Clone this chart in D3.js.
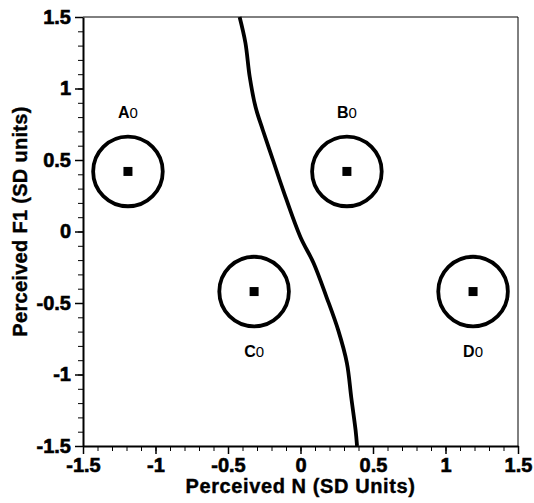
<!DOCTYPE html>
<html>
<head>
<meta charset="utf-8">
<script src="https://cdn.jsdelivr.net/npm/d3@7"></script>
<style>
    body { margin: 0; background: #fff; }
    svg text { font-family: "Liberation Sans", Arial, Helvetica, sans-serif; }
</style>
</head>
<body>
<div id="chart"></div>
<script>
// stimulus points in perceived N / F1 space
const names = ["A", "B", "C", "D"]
const pointN = [-1.19, 0.32, -0.32, 1.19]
const pointF1 = [0.42, 0.42, -0.42, -0.42]
const circleRadius = 0.24 // SD units

// category boundary
const boundaryN = [-0.42, -0.38, -0.35, -0.31, -0.26, -0.19, -0.12, 0.0, 0.09, 0.18, 0.26, 0.32, 0.35, 0.38, 0.39]
const boundaryF1 = [1.5, 1.32, 1.08, 0.87, 0.71, 0.5, 0.29, -0.04, -0.22, -0.46, -0.69, -0.92, -1.16, -1.39, -1.5]

const xTickValues = [-1.5, -1, -0.5, 0, 0.5, 1, 1.5]
const yTickValues = [-1.5, -1, -0.5, 0, 0.5, 1, 1.5]
const minorTickValues = d3.range(-15, 16).map(d => d / 10)

const xTitle = "Perceived N (SD Units)"
const yTitle = "Perceived F1 (SD units)"

const W = 534, H = 503
const margin = {top: 17, right: 16, bottom: 57, left: 83}
const width = W - margin.left - margin.right,
    height = H - margin.top - margin.bottom

const svg = d3.select("#chart")
    .append("svg")
    .attr("width", W)
    .attr("height", H)

const g = svg.append("g")
    .attr("transform", `translate(${margin.left}, ${margin.top})`)

const x = d3.scaleLinear().domain([-1.5, 1.5]).range([0, width])
const y = d3.scaleLinear().domain([-1.5, 1.5]).range([height, 0])

// thin frame on top and right
g.append("line").attr("x1", 0).attr("x2", width).attr("y1", 0).attr("y2", 0)
    .attr("stroke", "#000").attr("stroke-width", 1)
g.append("line").attr("x1", width).attr("x2", width).attr("y1", 0).attr("y2", height)
    .attr("stroke", "#000").attr("stroke-width", 1)

const fmt = d => d.toString()

// minor ticks
g.append("g")
    .attr("transform", `translate(0, ${height})`)
    .call(d3.axisBottom(x).tickValues(minorTickValues).tickSize(5).tickSizeOuter(0).tickFormat(""))
    .call(a => a.select(".domain").remove())
g.append("g")
    .call(d3.axisLeft(y).tickValues(minorTickValues).tickSize(5).tickSizeOuter(0).tickFormat(""))
    .call(a => a.select(".domain").remove())

const xAxis = g.append("g")
    .attr("transform", `translate(0, ${height})`)
    .call(d3.axisBottom(x).tickValues(xTickValues).tickSize(8).tickSizeOuter(0).tickFormat(fmt))
const yAxis = g.append("g")
    .call(d3.axisLeft(y).tickValues(yTickValues).tickSize(8).tickSizeOuter(0).tickFormat(fmt))

for (const a of [xAxis, yAxis]) {
    a.select(".domain").attr("stroke-width", 2)
    a.selectAll(".tick line").attr("stroke-width", 1.5)
    a.selectAll(".tick text")
        .style("font-size", "20px")
        .style("font-weight", "bold")
        .attr("fill", "#000")
        .attr("stroke", "#000")
        .attr("stroke-width", 0.6)
}
xAxis.selectAll(".tick text").attr("y", 12)
yAxis.selectAll(".tick text").attr("x", -12)
svg.selectAll(".tick line").attr("stroke", "#000")
svg.selectAll(".domain").attr("stroke", "#000")

// axis titles
svg.append("text")
    .attr("x", margin.left + width / 2)
    .attr("y", 493)
    .attr("text-anchor", "middle")
    .style("font-size", "20px")
    .style("font-weight", "bold")
    .style("letter-spacing", "0.6px")
    .attr("stroke", "#000")
    .attr("stroke-width", 0.4)
    .text(xTitle)

svg.append("text")
    .attr("transform", `translate(27, ${margin.top + height / 2 - 10}) rotate(-90)`)
    .attr("text-anchor", "middle")
    .style("font-size", "20px")
    .style("font-weight", "bold")
    .style("letter-spacing", "0.3px")
    .attr("stroke", "#000")
    .attr("stroke-width", 0.4)
    .text(yTitle)

// boundary curve
const boundary = boundaryN.map((n, i) => [n, boundaryF1[i]])
g.append("path")
    .datum(boundary)
    .attr("fill", "none")
    .attr("stroke", "#000")
    .attr("stroke-width", 3.8)
    .attr("stroke-linecap", "butt")
    .attr("d", d3.line().x(d => x(d[0])).y(d => y(d[1])).curve(d3.curveCatmullRom))

// points, circles and labels
const points = names.map((name, i) => ({name, n: pointN[i], f1: pointF1[i]}))
const rPx = x(circleRadius) - x(0)
const sq = 9

const pt = g.selectAll(".pt")
    .data(points)
    .enter()
    .append("g")
    .attr("class", "pt")
    .attr("transform", d => `translate(${x(d.n)}, ${y(d.f1)})`)

pt.append("circle")
    .attr("r", rPx)
    .attr("fill", "none")
    .attr("stroke", "#000")
    .attr("stroke-width", 3.8)

pt.append("rect")
    .attr("x", -sq / 2)
    .attr("y", -sq / 2)
    .attr("width", sq)
    .attr("height", sq)
    .attr("fill", "#000")

const label = pt.append("text")
    .attr("y", d => d.f1 > 0 ? -53 : 65)
    .attr("text-anchor", "middle")
label.append("tspan")
    .style("font-size", "16px")
    .style("font-weight", "bold")
    .text(d => d.name)
label.append("tspan")
    .style("font-size", "15px")
    .text("0")
</script>
</body>
</html>
